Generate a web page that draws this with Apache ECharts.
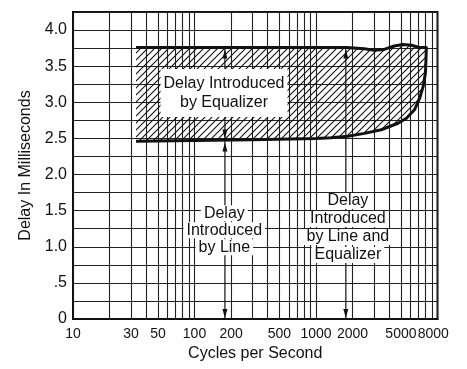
<!DOCTYPE html>
<html><head><meta charset="utf-8">
<script src="https://cdn.jsdelivr.net/npm/echarts@6/dist/echarts.min.js"></script>
<style>html,body{margin:0;padding:0;background:#fff}#c{width:467px;height:369px}</style>
</head><body><div id="c"></div>
<script>
// ---- data ----
const xGridValues = [10,20,30,40,50,60,70,80,90,100,200,300,400,500,600,700,800,900,1000,2000,3000,4000,5000,6000,7000,8000,9000,10000];
const xLabelValues = [10,30,50,100,200,500,1000,2000,5000];
const xLabelValuesEnd = [8000];
const yLabelValues = [0,0.5,1,1.5,2,2.5,3,3.5,4];
const yLabelTexts = ['0','.5','1.0','1.5','2.0','2.5','3.0','3.5','4.0'];

// upper edge of equalizer delay band (left -> right)
const upperFreq  = [33, 1000, 1800, 2500, 3000, 3600, 4400, 5200, 6100, 7100, 8100];
const upperDelay = [3.76, 3.76, 3.76, 3.74, 3.72, 3.73, 3.78, 3.80, 3.79, 3.76, 3.76];
// lower edge = delay introduced by line (right -> left)
const lowerFreq  = [8050, 7960, 7620, 7140, 6490, 5550, 4730, 3440, 2500, 1830, 1330, 1000, 300, 33];
const lowerDelay = [3.62, 3.41, 3.22, 3.06, 2.90, 2.78, 2.71, 2.62, 2.57, 2.53, 2.51, 2.50, 2.48, 2.46];

const arrowLineFreq = 178;
const arrowBothFreq = 1760;
const lineDelay = 2.47;
const totalDelay = 3.76;

const labelEq = 'Delay Introduced\nby Equalizer';
const labelLine = ['Delay','Introduced','by Line'];
const labelBoth = ['Delay','Introduced','by Line and','Equalizer'];

// ---- hatch pattern ----
const pc = document.createElement('canvas'); pc.width = 7; pc.height = 7;
const g = pc.getContext('2d'); g.strokeStyle = '#111'; g.lineWidth = 1.1;
g.beginPath(); g.moveTo(0,7); g.lineTo(7,0); g.moveTo(-1,1); g.lineTo(1,-1); g.moveTo(6,8); g.lineTo(8,6); g.stroke();

const FONT = '"Liberation Sans", Arial, sans-serif';

function arrowHead(x, y, dir) { // dir -1 = up, 1 = down (tip at x,y)
  return {type:'polygon', shape:{points:[[x,y],[x-2.5,y-dir*9],[x+2.5,y-dir*9]]}, style:{fill:'#111'}};
}

function renderItem(params, api) {
  const ch = [];
  const up = upperFreq.map((f,i)=>api.coord([f, upperDelay[i]]));
  const lo = lowerFreq.map((f,i)=>api.coord([f, lowerDelay[i]]));
  const pts = up.concat(lo);
  ch.push({type:'polygon', shape:{points:pts}, style:{fill:{image:pc, repeat:'repeat'}}});
  ch.push({type:'polyline', shape:{points:pts}, style:{stroke:'#111', lineWidth:3, fill:null, lineJoin:'round'}});
  // arrows
  const a0 = api.coord([arrowLineFreq, 0]);
  const a1 = api.coord([arrowLineFreq, lineDelay]);
  const a2 = api.coord([arrowLineFreq, totalDelay]);
  ch.push({type:'line', shape:{x1:a0[0],y1:a0[1],x2:a2[0],y2:a2[1]}, style:{stroke:'#111', lineWidth:1.2}});
  ch.push(arrowHead(a0[0], a0[1]-1, 1));
  ch.push(arrowHead(a1[0], a1[1]+2, -1));
  ch.push(arrowHead(a1[0], a1[1]-2, 1));
  ch.push(arrowHead(a2[0], a2[1]+2, -1));
  const b0 = api.coord([arrowBothFreq, 0]);
  const b2 = api.coord([arrowBothFreq, totalDelay]);
  ch.push({type:'line', shape:{x1:b0[0],y1:b0[1],x2:b2[0],y2:b2[1]}, style:{stroke:'#111', lineWidth:1.2}});
  ch.push(arrowHead(b0[0], b0[1]-1, 1));
  ch.push(arrowHead(b2[0], b2[1]+2, -1));
  // labels
  const pe = api.coord([175, 3.13]);
  ch.push({type:'text', x:pe[0], y:pe[1], style:{text:labelEq, align:'center', verticalAlign:'middle',
    font:'16px '+FONT, fill:'#111', lineHeight:19, backgroundColor:'#fff', padding:[5,3,5,3]}});
  const pl = api.coord([176, 1.23]);
  ch.push({type:'text', x:pl[0], y:pl[1], style:{text:labelLine.map(s=>'{a|'+s+'}').join('\n'), align:'center', verticalAlign:'middle',
    font:'16px '+FONT, fill:'#111', rich:{a:{backgroundColor:'#fff', padding:[0,3,0,3], lineHeight:17, fontSize:16, fontFamily:FONT, fill:'#111'}}}});
  const pb = api.coord([1830, 1.26]);
  ch.push({type:'text', x:pb[0], y:pb[1], style:{text:labelBoth.map(s=>'{a|'+s+'}').join('\n'), align:'center', verticalAlign:'middle',
    font:'16px '+FONT, fill:'#111', rich:{a:{backgroundColor:'#fff', padding:[0,3,0,3], lineHeight:18, fontSize:16, fontFamily:FONT, fill:'#111'}}}});
  return {type:'group', children:ch};
}

const chart = echarts.init(document.getElementById('c'), null, {renderer:'canvas'});
chart.setOption({
  animation:false,
  backgroundColor:'#fff',
  grid:{left:73, right:29.5, top:12, bottom:50, show:true, borderColor:'#111', borderWidth:2, backgroundColor:'transparent'},
  xAxis:[{type:'log', logBase:10, min:10, max:10000,
    name:'Cycles per Second', nameLocation:'middle', nameGap:25,
    nameTextStyle:{fontSize:16, fontFamily:FONT, color:'#111'},
    axisLine:{show:true, lineStyle:{color:'#111', width:2}},
    axisTick:{show:false, customValues:xGridValues},
    splitLine:{show:true, lineStyle:{color:'#222', width:1.1}},
    axisLabel:{customValues:xLabelValues, margin:8, fontSize:14, fontFamily:FONT, color:'#111',
      showMinLabel:true, showMaxLabel:true, formatter:v=>String(v)}
  },{type:'log', logBase:10, min:10, max:10000, position:'bottom',
    axisLine:{show:false}, axisTick:{show:false}, splitLine:{show:false},
    axisLabel:{customValues:xLabelValuesEnd, margin:8, fontSize:14, fontFamily:FONT, color:'#111',
      showMinLabel:true, showMaxLabel:true,
      formatter:v=>'{s|'+v+'}',
      rich:{s:{padding:[0,0,0,15], fontSize:14, fontFamily:FONT, color:'#111'}}}
  }],
  yAxis:{type:'value', min:0, max:4.25, interval:0.25,
    name:'Delay In Milliseconds', nameLocation:'middle', nameGap:35, nameRotate:90,
    nameTextStyle:{fontSize:16, fontFamily:FONT, color:'#111'},
    axisLine:{show:true, lineStyle:{color:'#111', width:2}},
    axisTick:{show:false},
    splitLine:{show:true, lineStyle:{color:'#222', width:1.1}},
    axisLabel:{customValues:yLabelValues, margin:6, fontSize:16, fontFamily:FONT, color:'#111',
      formatter:v=>{const i=yLabelValues.findIndex(x=>Math.abs(x-v)<1e-6); return i>=0?yLabelTexts[i]:'';}}
  },
  series:[{type:'custom', coordinateSystem:'cartesian2d', xAxisIndex:0, data:[[100,2]], renderItem:renderItem, clip:false, silent:true, z:5}]
});
</script></body></html>
